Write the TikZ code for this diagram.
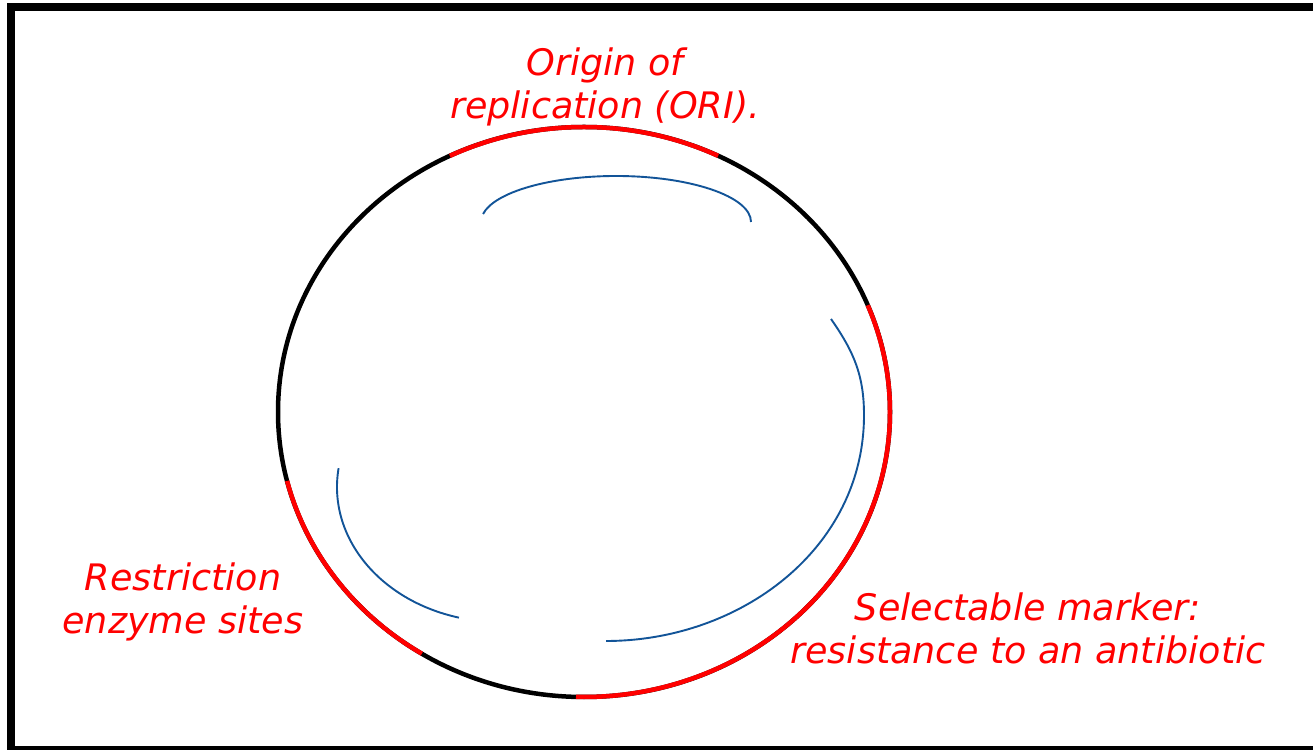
\documentclass[tikz,border=0pt]{standalone}
\usepackage{fontspec}
\newfontfamily\labelfont{DejaVu Sans}
\begin{document}
\begin{tikzpicture}[x=1pt,y=1pt,
  plasmid/.style={line width=4.5pt,black},
  region/.style={line width=4.5pt,red},
  strand/.style={line width=1.9pt,color={rgb,255:red,18;green,84;blue,152}},
  lbl/.style={text=red,font=\labelfont\itshape\fontsize{36.5}{43}\selectfont,align=center,inner sep=0pt}
]
\clip (0,0) rectangle (1313,749);
\fill[white] (0,0) rectangle (1313,749);
\draw[line width=8pt] (11,-5) -- (11,742) -- (1330,742);
\draw[line width=8pt] (11,-1) -- (1330,-1);
% plasmid circle
\coordinate (c) at (584,337);
\draw[plasmid] (c) ellipse [x radius=306, y radius=285];
\draw[region] (c) ++({306*cos(64)},{285*sin(64)}) arc[start angle=64,end angle=116,x radius=306,y radius=285];
\draw[region] (c) ++({306*cos(-91.5)},{285*sin(-91.5)}) arc[start angle=-91.5,end angle=22,x radius=306,y radius=285];
\draw[region] (c) ++({306*cos(194)},{285*sin(194)}) arc[start angle=194,end angle=238,x radius=306,y radius=285];
% inner strands
\coordinate (t) at (616,527);
\draw[strand] (t) ++(135,0) arc[start angle=0,end angle=170,x radius=135,y radius=46];
\coordinate (r1) at (831,430);
\coordinate (r2) at (864,334);
\coordinate (r3) at (606,108);
\draw[strand] (r1) to[out=-55,in=90] (r2) to[out=-90,in=0] (r3);
\coordinate (l) at (500,262);
\draw[strand] (l) ++({163*cos(172)},{135*sin(172)}) arc[start angle=172,end angle=255.4,x radius=163,y radius=135];
% labels
\node[lbl] (ori) at (605,662) {Origin of\\replication (ORI).};
\node[lbl] (res) at (183,147) {Restriction\\enzyme sites};
\node[lbl] (sel) at (1028,121) {Selectable marker:\\resistance to an antibiotic};
\end{tikzpicture}
\end{document}
